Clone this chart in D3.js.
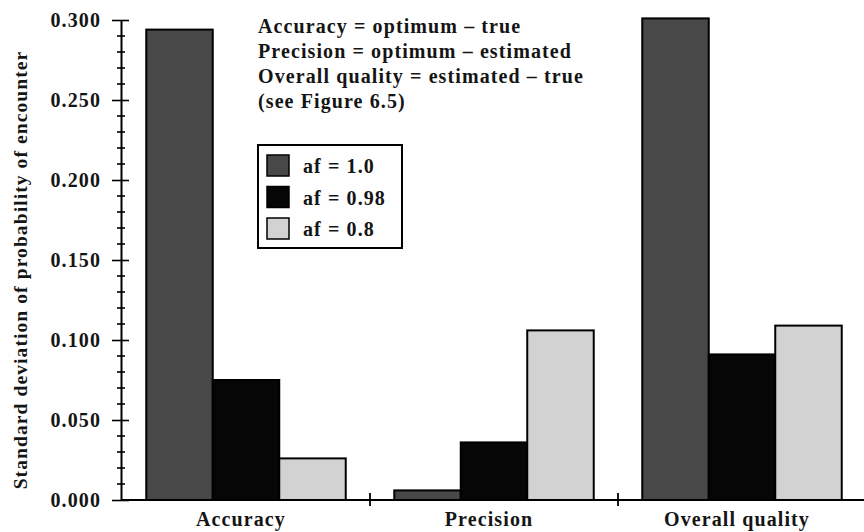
<!DOCTYPE html>
<html>
<head>
<meta charset="utf-8">
<script src="https://cdn.jsdelivr.net/npm/d3@7"></script>
<style>
  body { margin: 0; background: #fff; }
  text { font-family: 'Liberation Serif', 'DejaVu Serif', serif; fill: #151515; font-weight: bold; letter-spacing: 1.1px; }
</style>
</head>
<body>
<script>
// data
var categories = ['Accuracy', 'Precision', 'Overall quality'];
var seriesNames = ['af = 1.0', 'af = 0.98', 'af = 0.8'];
var af10 = [0.294, 0.006, 0.301];
var af098 = [0.075, 0.036, 0.091];
var af08 = [0.026, 0.106, 0.109];
var yTicks = [0, 0.05, 0.1, 0.15, 0.2, 0.25, 0.3];
var notes = [
  'Accuracy = optimum \u2013 true',
  'Precision = optimum \u2013 estimated',
  'Overall quality = estimated \u2013 true',
  '(see Figure 6.5)'
];

var colors = ['#484848', '#060606', '#d2d2d2'];
var seriesValues = [af10, af098, af08];

var width = 864, height = 532;
var plotLeft = 121, plotBottom = 500, plotTop = 20;

var svg = d3.select('body').append('svg')
  .attr('width', width)
  .attr('height', height);

var x0 = d3.scaleBand().domain(categories).range([plotLeft + 1, plotLeft + 1 + 3 * 248]);
var x1 = d3.scaleBand().domain(d3.range(3)).range([0, x0.bandwidth()]).paddingOuter(0.365);
var y = d3.scaleLinear().domain([0, 0.3]).range([plotBottom, plotTop]);

var rows = [];
categories.forEach(function(c, i) {
  seriesValues.forEach(function(vals, s) {
    rows.push({cat: c, s: s, v: vals[i]});
  });
});

// bars
svg.append('g').selectAll('rect').data(rows).enter().append('rect')
  .attr('x', function(d) { return x0(d.cat) + x1(d.s); })
  .attr('y', function(d) { return y(d.v); })
  .attr('width', x1.bandwidth())
  .attr('height', function(d) { return plotBottom - y(d.v); })
  .attr('fill', function(d) { return colors[d.s]; })
  .attr('stroke', '#000')
  .attr('stroke-width', 2);

// y axis: major ticks
var yAxis = d3.axisLeft(y).tickValues(yTicks).tickFormat(d3.format('.3f'))
  .tickSizeInner(9).tickSizeOuter(0).tickPadding(11);
var gy = svg.append('g').attr('transform', 'translate(' + plotLeft + ',0)').call(yAxis);
gy.select('.domain').attr('stroke', '#000').attr('stroke-width', 2);
gy.selectAll('.tick line').attr('x2', 8).attr('x1', -9).attr('stroke-width', 1.6);
gy.selectAll('.tick text').attr('font-size', 20).style('font-family', "'Liberation Serif', serif");

// minor ticks every 0.01
svg.append('g').selectAll('line').data(d3.range(0, 31).filter(function(i) { return i % 5 !== 0; }))
  .enter().append('line')
  .attr('x1', plotLeft - 4).attr('x2', plotLeft + 4)
  .attr('y1', function(i) { return y(i / 100); })
  .attr('y2', function(i) { return y(i / 100); })
  .attr('stroke', '#000').attr('stroke-width', 1.6);

// x axis
svg.append('line')
  .attr('x1', plotLeft).attr('x2', width)
  .attr('y1', plotBottom).attr('y2', plotBottom)
  .attr('stroke', '#000').attr('stroke-width', 2);

svg.append('g').selectAll('line').data(categories.slice(1)).enter().append('line')
  .attr('x1', function(c) { return x0(c); })
  .attr('x2', function(c) { return x0(c); })
  .attr('y1', plotBottom - 7).attr('y2', plotBottom + 6)
  .attr('stroke', '#000').attr('stroke-width', 1.8);

svg.append('g').selectAll('text').data(categories).enter().append('text')
  .attr('x', function(c) { return x0(c) + x0.bandwidth() / 2 - 5; })
  .attr('y', 526)
  .attr('text-anchor', 'middle')
  .attr('font-size', 20)
  .text(function(c) { return c; });

// y title
svg.append('text')
  .attr('transform', 'translate(27,' + 270 + ') rotate(-90)')
  .attr('text-anchor', 'middle')
  .attr('font-size', 19.5)
  .text('Standard deviation of probability of encounter');

// notes
svg.append('g').selectAll('text').data(notes).enter().append('text')
  .attr('x', 258)
  .attr('y', function(d, i) { return 33 + i * 25; })
  .attr('font-size', 20)
  .text(function(d) { return d; });

// legend
var lg = svg.append('g');
lg.append('rect')
  .attr('x', 258).attr('y', 145).attr('width', 144).attr('height', 103)
  .attr('fill', 'none').attr('stroke', '#000').attr('stroke-width', 2);
var item = lg.selectAll('.item').data(seriesNames).enter().append('g')
  .attr('transform', function(d, i) { return 'translate(267,' + (155 + i * 31.5) + ')'; });
item.append('rect')
  .attr('width', 22).attr('height', 21)
  .attr('fill', function(d, i) { return colors[i]; })
  .attr('stroke', '#000').attr('stroke-width', 1.5);
item.append('text')
  .attr('x', 36).attr('y', 18)
  .attr('font-size', 20)
  .text(function(d) { return d; });
</script>
</body>
</html>
